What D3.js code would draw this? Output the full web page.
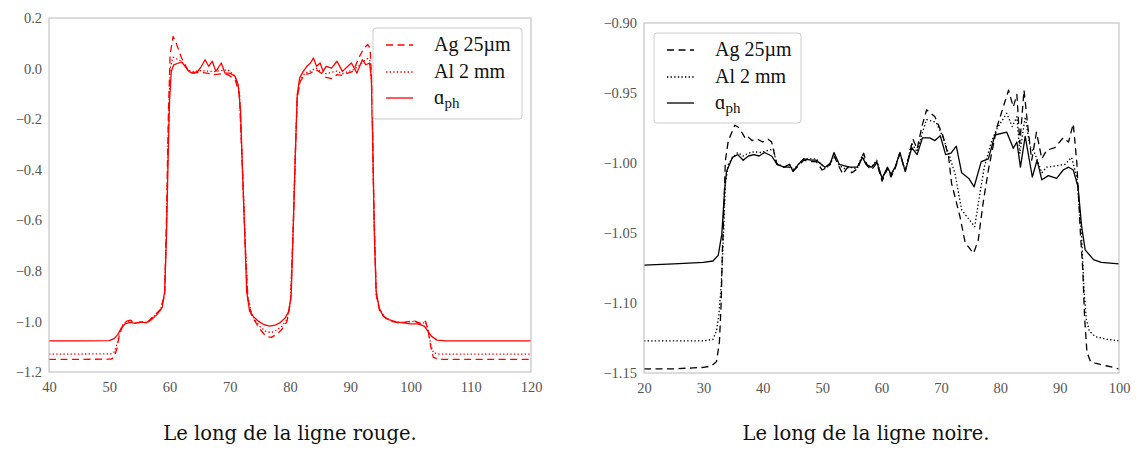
<!DOCTYPE html>
<html>
<head>
<meta charset="utf-8">
<script src="https://cdn.jsdelivr.net/npm/d3@7"></script>
<style>
  body { margin: 0; background: #fff; }
  svg { display: block; }
</style>
</head>
<body>
<svg id="chart" width="1138" height="450"></svg>
<script>
// ---------- DATA ----------
const seriesNames = ["Ag 25\u00b5m", "Al 2 mm", "aph"];
const leftXTicks = [40, 50, 60, 70, 80, 90, 100, 110, 120];
const leftYTicks = [0.2, 0.0, -0.2, -0.4, -0.6, -0.8, -1.0, -1.2];
const rightXTicks = [20, 30, 40, 50, 60, 70, 80, 90, 100];
const rightYTicks = [-0.90, -0.95, -1.00, -1.05, -1.10, -1.15];
const captions = ["Le long de la ligne rouge.", "Le long de la ligne noire."];

const redAg = [[40,-1.150],[45,-1.150],[50.3,-1.149],[50.8,-1.142],[51.3,-1.105],[51.7,-1.052],[52.3,-1.013],[52.9,-0.999],[53.5,-0.995],[54.3,-1.006],[55.2,-1.004],[56.4,-1.002],[57.3,-0.980],[58.5,-0.953],[59.2,-0.894],[59.5,-0.591],[59.8,-0.195],[60.1,0.055],[60.6,0.127],[61.0,0.108],[61.5,0.075],[62.0,0.042],[62.6,0.015],[63.2,-0.014],[64.1,-0.018],[65.0,-0.014],[66.2,-0.018],[67.4,-0.024],[68.6,-0.021],[69.7,-0.024],[70.9,-0.044],[71.6,-0.103],[72.1,-0.393],[72.6,-0.723],[73.0,-0.907],[73.6,-0.973],[74.2,-1.000],[75.1,-1.033],[76.0,-1.059],[76.9,-1.063],[77.7,-1.052],[78.6,-1.033],[79.5,-1.000],[80.1,-0.921],[80.5,-0.657],[80.9,-0.327],[81.2,-0.116],[81.7,-0.050],[82.5,-0.024],[83.4,-0.018],[84.3,-0.004],[85.2,-0.018],[86.0,-0.035],[86.9,-0.040],[87.8,-0.024],[88.7,-0.027],[89.6,-0.018],[90.5,-0.011],[91.4,0.042],[92.3,0.081],[92.9,0.095],[93.3,0.081],[93.6,-0.077],[93.9,-0.525],[94.3,-0.894],[94.9,-0.960],[95.8,-0.986],[96.9,-1.000],[98.1,-1.006],[99.3,-1.002],[100.6,-0.997],[101.8,-1.010],[102.5,-1.000],[102.9,-1.033],[103.4,-1.105],[103.8,-1.142],[104.7,-1.150],[110,-1.150],[120,-1.150]];

const redAl = [[40,-1.129],[45,-1.129],[50.3,-1.128],[50.8,-1.122],[51.3,-1.090],[51.7,-1.045],[52.3,-1.010],[52.9,-1.000],[53.5,-0.998],[54.3,-1.006],[55.2,-1.003],[56.4,-1.003],[57.3,-0.983],[58.5,-0.955],[59.2,-0.890],[59.5,-0.620],[59.8,-0.250],[60.1,0.000],[60.6,0.045],[61.0,0.040],[61.5,0.035],[62.0,0.028],[62.6,0.010],[63.2,-0.008],[64.1,-0.012],[65.0,-0.008],[66.2,-0.010],[67.4,-0.012],[68.6,-0.008],[69.7,-0.005],[70.9,-0.030],[71.6,-0.090],[72.1,-0.390],[72.6,-0.700],[73.0,-0.900],[73.6,-0.968],[74.2,-0.995],[75.1,-1.022],[76.0,-1.040],[76.9,-1.044],[77.7,-1.035],[78.6,-1.020],[79.5,-0.993],[80.1,-0.915],[80.5,-0.657],[80.9,-0.327],[81.2,-0.110],[81.7,-0.045],[82.5,-0.018],[83.4,-0.010],[84.3,0.002],[85.2,-0.012],[86.0,-0.020],[86.9,-0.015],[87.8,-0.010],[88.7,-0.020],[89.6,-0.012],[90.5,-0.005],[91.4,0.010],[92.3,0.030],[92.9,0.040],[93.3,0.030],[93.6,-0.080],[93.9,-0.520],[94.3,-0.885],[94.9,-0.955],[95.8,-0.985],[96.9,-0.998],[98.1,-1.004],[99.3,-1.003],[100.6,-1.000],[101.8,-1.008],[102.5,-1.003],[102.9,-1.030],[103.4,-1.095],[103.8,-1.124],[104.7,-1.129],[110,-1.129],[120,-1.129]];

const redAph = [[40,-1.077],[45,-1.077],[50,-1.076],[50.8,-1.068],[51.4,-1.052],[52.0,-1.026],[52.6,-1.010],[53.5,-1.004],[54.3,-1.008],[55.2,-1.002],[56.1,-1.006],[57.0,-0.993],[57.9,-0.973],[58.8,-0.944],[59.2,-0.881],[59.5,-0.657],[59.8,-0.327],[60.0,-0.130],[60.3,-0.011],[60.7,0.015],[61.5,0.022],[62.0,0.026],[62.6,0.009],[63.2,-0.011],[63.8,-0.018],[64.7,-0.011],[65.3,0.009],[65.9,0.035],[66.5,0.009],[67.1,0.029],[67.7,-0.011],[68.6,0.022],[69.2,-0.018],[70.0,-0.018],[70.9,-0.031],[71.4,-0.064],[71.8,-0.169],[72.1,-0.393],[72.5,-0.657],[72.8,-0.881],[73.3,-0.960],[73.9,-0.980],[74.8,-1.000],[75.7,-1.013],[76.6,-1.019],[77.5,-1.015],[78.3,-1.006],[79.2,-0.986],[79.8,-0.960],[80.2,-0.894],[80.5,-0.657],[80.9,-0.327],[81.2,-0.103],[81.6,-0.037],[82.2,-0.011],[82.8,0.009],[83.4,0.022],[83.9,0.042],[84.4,0.009],[85.0,0.022],[85.5,-0.011],[86.0,0.009],[86.9,0.002],[87.8,0.029],[88.7,-0.011],[89.6,0.009],[90.2,0.022],[91.1,-0.018],[92.0,0.035],[92.6,0.015],[93.2,0.022],[93.5,-0.037],[93.7,-0.261],[94.0,-0.657],[94.3,-0.881],[94.8,-0.947],[95.5,-0.980],[96.4,-0.993],[97.6,-1.002],[98.8,-1.006],[100.0,-1.010],[101.2,-1.010],[102.3,-1.019],[102.9,-1.039],[103.5,-1.059],[104.4,-1.074],[105.9,-1.077],[110,-1.077],[120,-1.077]];

const blackAg = [[20,-1.147],[25,-1.147],[30,-1.146],[31.3,-1.145],[32.2,-1.142],[32.7,-1.128],[33.0,-1.100],[33.2,-1.063],[33.5,-1.027],[33.7,-0.9985],[34.2,-0.984],[34.8,-0.978],[35.3,-0.973],[35.9,-0.9745],[36.6,-0.979],[37.0,-0.982],[37.3,-0.9805],[38.2,-0.984],[39.1,-0.983],[40.0,-0.985],[40.9,-0.983],[41.5,-0.985],[42.1,-0.996],[42.4,-1.001],[43.6,-1.003],[44.5,-1.003],[45.1,-1.006],[46.0,-1.002],[46.9,-0.998],[48.1,-0.999],[49.0,-0.999],[50.0,-1.005],[51.0,-1.003],[52.0,-0.995],[52.9,-1.003],[53.5,-1.008],[54.3,-1.003],[55.0,-1.007],[56.0,-1.004],[57.0,-0.993],[57.6,-1.002],[58.3,-1.005],[59.2,-1.000],[60.1,-1.013],[61.0,-1.004],[61.6,-1.010],[62.3,-1.004],[63.1,-0.993],[64.0,-1.006],[65.3,-0.983],[66.0,-0.990],[66.8,-0.974],[67.6,-0.962],[69.0,-0.967],[70.3,-0.980],[71.3,-0.9955],[71.8,-1.0145],[73.2,-1.038],[74.1,-1.057],[75.5,-1.0645],[76.3,-1.055],[77.1,-1.029],[78.0,-1.005],[79.4,-0.975],[80.5,-0.960],[81.4,-0.948],[82.2,-0.960],[82.8,-0.951],[83.3,-0.986],[84.0,-0.948],[84.7,-0.976],[85.3,-0.998],[86.1,-0.978],[87.0,-0.997],[87.8,-0.991],[89.2,-0.989],[90.6,-0.982],[91.5,-0.985],[92.3,-0.972],[92.9,-1.000],[93.5,-1.050],[93.9,-1.076],[94.2,-1.110],[94.6,-1.135],[95.2,-1.142],[96,-1.143],[98,-1.145],[100,-1.147]];

const blackAl = [[20,-1.127],[25,-1.127],[30,-1.127],[31.6,-1.126],[32.2,-1.120],[32.6,-1.109],[33.0,-1.0875],[33.4,-1.051],[33.7,-1.015],[34.2,-1.001],[34.9,-0.996],[35.8,-0.9925],[36.7,-0.995],[37.6,-0.993],[38.5,-0.992],[39.7,-0.9925],[40.9,-0.991],[41.8,-0.990],[42.3,-1.000],[43.6,-1.003],[44.5,-1.001],[45.1,-1.005],[46.0,-1.001],[46.9,-0.997],[48.1,-0.997],[49.0,-0.997],[50.5,-1.004],[51.4,-1.001],[52.0,-0.994],[52.9,-1.002],[53.8,-1.004],[54.7,-1.003],[55.9,-1.004],[56.8,-0.994],[57.4,-1.001],[58.3,-1.003],[59.2,-0.998],[60.1,-1.012],[61.0,-1.003],[61.6,-1.009],[62.3,-1.003],[63.1,-0.993],[64.0,-1.006],[65.1,-0.986],[66.0,-0.992],[66.9,-0.978],[67.6,-0.969],[69.2,-0.971],[70.3,-0.981],[71.3,-0.993],[72.4,-1.008],[73.5,-1.0335],[75.7,-1.0455],[76.3,-1.029],[77.3,-1.003],[78.5,-0.985],[79.5,-0.975],[81.1,-0.9645],[82.0,-0.974],[82.8,-0.967],[83.3,-0.993],[84.2,-0.967],[85.0,-0.988],[85.8,-0.993],[87.0,-1.007],[87.8,-1.003],[89.5,-1.002],[90.9,-1.001],[92.0,-0.996],[92.9,-1.010],[93.7,-1.052],[94.1,-1.090],[94.5,-1.112],[95,-1.120],[96,-1.124],[98,-1.126],[100,-1.127]];

const blackAph = [[20,-1.073],[25,-1.072],[30,-1.071],[31.6,-1.070],[32.5,-1.066],[33.1,-1.051],[33.6,-1.018],[33.9,-1.006],[34.3,-1.002],[34.9,-0.996],[35.8,-0.994],[36.7,-0.998],[37.6,-0.995],[38.5,-0.994],[39.4,-0.995],[40.3,-0.9925],[41.5,-0.995],[42.4,-1.001],[43.6,-1.003],[44.5,-1.001],[45.1,-1.006],[46.0,-1.001],[46.9,-0.997],[48.1,-0.998],[49.0,-0.998],[50.5,-1.003],[51.4,-1.000],[52.0,-0.9925],[52.9,-1.001],[53.8,-1.002],[54.7,-1.003],[55.9,-1.003],[56.8,-0.996],[57.4,-1.001],[58.3,-1.003],[59.2,-0.999],[60.1,-1.011],[61.0,-1.003],[61.6,-1.008],[62.3,-1.003],[63.1,-0.9925],[64.0,-1.006],[65.1,-0.989],[66.0,-0.994],[66.9,-0.982],[68.1,-0.982],[69.0,-0.984],[69.9,-0.9805],[70.8,-0.994],[71.7,-0.993],[72.6,-0.988],[73.5,-1.007],[74.7,-1.011],[75.6,-1.017],[76.8,-0.999],[78.0,-0.997],[79.1,-0.980],[81.1,-0.978],[82.2,-0.9895],[82.8,-0.985],[83.4,-1.003],[84.2,-0.981],[85.4,-1.010],[86.2,-0.998],[87.0,-1.012],[88.1,-1.009],[89.5,-1.011],[90.6,-1.005],[91.5,-1.003],[92.3,-1.005],[93.1,-1.017],[93.7,-1.045],[94.3,-1.062],[95.7,-1.069],[97,-1.071],[100,-1.072]];

// ---------- DRAW ----------
const svg = d3.select("#chart");
const dashes = ["7,4.5", "1.4,2.2", null];

const panels = [
  { id: "L", color: "#ff0000", series: [redAg, redAl, redAph],
    xDomain: [40, 120], xRange: [49, 531], yDomain: [-1.2, 0.2], yRange: [372, 18],
    xTicks: leftXTicks, yTicks: leftYTicks, yFmt: d3.format(".1f"),
    legend: { x: 373, y: 28, w: 149, h: 91 }, caption: captions[0], capX: 290 },
  { id: "R", color: "#000000", series: [blackAg, blackAl, blackAph],
    xDomain: [20, 100], xRange: [644, 1119], yDomain: [-1.15, -0.90], yRange: [373, 23],
    xTicks: rightXTicks, yTicks: rightYTicks, yFmt: d3.format(".2f"),
    legend: { x: 654, y: 33, w: 147, h: 90 }, caption: captions[1], capX: 866 }
];

const tickFont = "'Liberation Serif', 'DejaVu Serif', serif";
const capFont = "'DejaVu Serif', 'Liberation Serif', serif";

panels.forEach(p => {
  const x = d3.scaleLinear().domain(p.xDomain).range(p.xRange);
  const y = d3.scaleLinear().domain(p.yDomain).range(p.yRange);
  const g = svg.append("g");

  // clip
  g.append("clipPath").attr("id", "clip" + p.id)
    .append("rect")
    .attr("x", p.xRange[0]).attr("y", p.yRange[1])
    .attr("width", p.xRange[1] - p.xRange[0]).attr("height", p.yRange[0] - p.yRange[1]);

  // axes
  const xa = g.append("g").attr("transform", `translate(0,${p.yRange[0]})`)
    .call(d3.axisBottom(x).tickValues(p.xTicks).tickSize(0).tickPadding(10).tickFormat(d3.format("d")));
  const ya = g.append("g").attr("transform", `translate(${p.xRange[0]},0)`)
    .call(d3.axisLeft(y).tickValues(p.yTicks).tickSize(0).tickPadding(7).tickFormat(p.yFmt));
  [xa, ya].forEach(a => {
    a.select(".domain").remove();
    a.selectAll("text").attr("font-family", tickFont).attr("font-size", 14.5).attr("fill", "#555");
  });

  // lines
  const line = d3.line().x(d => x(d[0])).y(d => y(d[1]));
  const lg = g.append("g").attr("clip-path", `url(#clip${p.id})`);
  p.series.forEach((s, i) => {
    lg.append("path").datum(s)
      .attr("d", line)
      .attr("fill", "none")
      .attr("stroke", p.color)
      .attr("stroke-width", 1.3)
      .attr("stroke-linejoin", "round")
      .attr("stroke-dasharray", dashes[i]);
  });

  // frame
  g.append("rect")
    .attr("x", p.xRange[0]).attr("y", p.yRange[1])
    .attr("width", p.xRange[1] - p.xRange[0]).attr("height", p.yRange[0] - p.yRange[1])
    .attr("fill", "none").attr("stroke", "#c4c4c4").attr("stroke-width", 1.2);

  // legend
  const L = p.legend;
  const leg = g.append("g");
  leg.append("rect")
    .attr("x", L.x).attr("y", L.y).attr("width", L.w).attr("height", L.h)
    .attr("rx", 3).attr("fill", "#fff").attr("fill-opacity", 0.85)
    .attr("stroke", "#cccccc").attr("stroke-width", 1);
  const rowY = [17, 44, 70];
  seriesNames.forEach((name, i) => {
    const ry = L.y + rowY[i];
    leg.append("line")
      .attr("x1", L.x + 13).attr("x2", L.x + 40)
      .attr("y1", ry).attr("y2", ry)
      .attr("stroke", p.color).attr("stroke-width", 1.3)
      .attr("stroke-dasharray", dashes[i]);
    const t = leg.append("text")
      .attr("x", L.x + 61).attr("y", ry + 6)
      .attr("font-family", tickFont).attr("font-size", 20).attr("fill", "#111");
    if (name === "aph") {
      t.append("tspan").text("\u0251");
      t.append("tspan").attr("dy", 4).attr("font-size", 15).text("ph");
    } else {
      t.text(name);
    }
  });

  // caption
  svg.append("text")
    .attr("x", p.capX).attr("y", 440)
    .attr("text-anchor", "middle")
    .attr("font-family", capFont).attr("font-size", 19.5).attr("fill", "#111")
    .text(p.caption);
});
</script>
</body>
</html>
